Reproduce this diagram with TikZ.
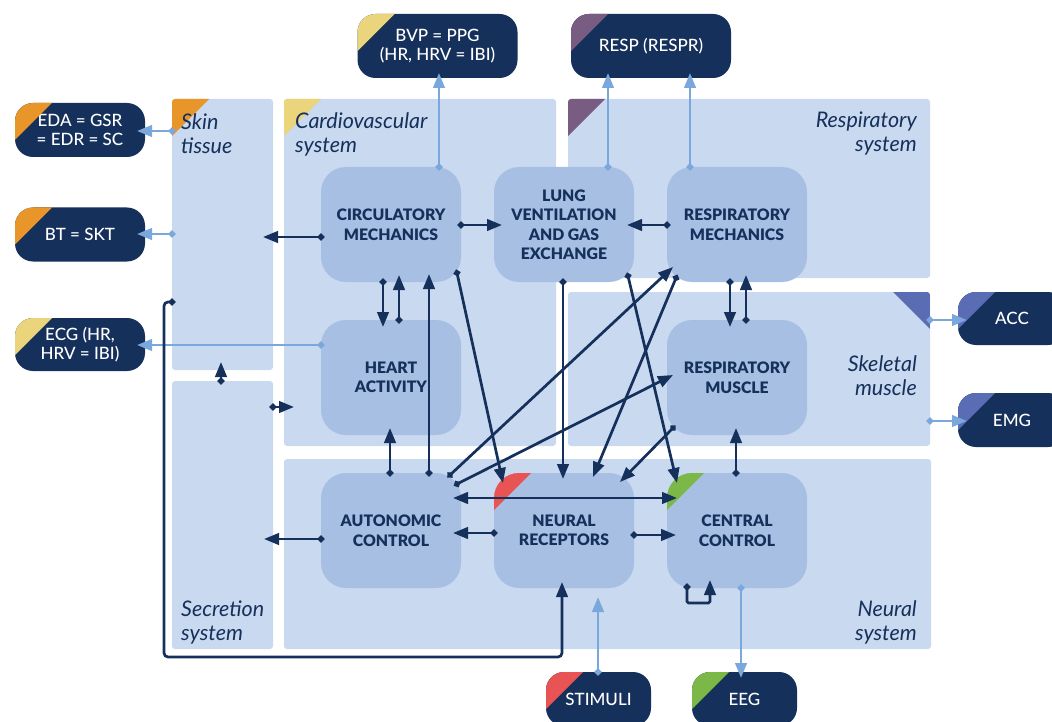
\documentclass[tikz,border=0pt]{standalone}
\usepackage{fontspec}
\setmainfont{Lato}
\IfFontExistsTF{Lato Black}{\newfontfamily\heavyfont{Lato Black}}{\newcommand{\heavyfont}{\bfseries}}
\IfFontExistsTF{Lato Medium}{\newfontfamily\medfont{Lato Medium}}{\newcommand{\medfont}{}}
\usetikzlibrary{arrows.meta,calc}
\definecolor{navy}{HTML}{15305A}
\definecolor{regc}{HTML}{C9D9EF}
\definecolor{nodec}{HTML}{A7BFE3}
\definecolor{lblue}{HTML}{7AA8DD}
\definecolor{corange}{HTML}{E8962A}
\definecolor{cyellow}{HTML}{EAD47C}
\definecolor{cpurple}{HTML}{785C82}
\definecolor{cblue}{HTML}{5A6CB4}
\definecolor{cred}{HTML}{E85454}
\definecolor{cgreen}{HTML}{7BB848}
\newcommand{\cornertri}[3]{%
  \begin{scope}
    \clip[rounded corners=#3] (#1.south west) rectangle (#1.north east);
    \fill[#2] (#1.north west) -- ++(37,0) -- ++(-37,37) -- cycle;
  \end{scope}}
\begin{document}
\begin{tikzpicture}[x=1pt,y=-1pt,
  regbox/.style={fill=regc, draw=none, rounded corners=3pt, inner sep=0pt, outer sep=0pt, anchor=north west},
  procbox/.style={fill=nodec, draw=none, rounded corners=25pt, inner sep=0pt, outer sep=0pt,
    minimum width=140pt, minimum height=115pt, align=center, text=navy,
    font=\heavyfont\fontsize{15.8}{19.5}\selectfont},
  outbox/.style={fill=navy, draw=none, rounded corners=18pt, inner sep=0pt, outer sep=0pt,
    align=center, text=white, font=\medfont\fontsize{17}{19}\selectfont},
  reglab/.style={inner sep=0pt, text=navy, font=\itshape\fontsize{21.5}{24}\selectfont},
  dk/.style={draw=navy, line width=2.7pt, {Circle[length=6.5pt]}-{Triangle[length=15pt,width=11.5pt]}, shorten <=-3.25pt},
  dkb/.style={draw=navy, line width=2.7pt, {Triangle[length=15pt,width=11.5pt]}-{Triangle[length=15pt,width=11.5pt]}},
  lb/.style={draw=lblue, line width=2.7pt, {Circle[length=6.5pt]}-{Triangle[length=15pt,width=11.5pt]}, shorten <=-3.25pt}
]
\useasboundingbox (0,0) rectangle (1052,722);

% regions
\node[regbox, minimum width=101pt, minimum height=271pt] (skin) at (172,99) {};
\node[regbox, minimum width=101pt, minimum height=268pt] (secr) at (172,381) {};
\node[regbox, minimum width=272pt, minimum height=347pt] (cardio) at (284,99) {};
\node[regbox, minimum width=362pt, minimum height=179pt] (respsys) at (568,99) {};
\node[regbox, minimum width=362pt, minimum height=154pt] (skel) at (568,292) {};
\node[regbox, minimum width=647pt, minimum height=190pt] (neur) at (284,459) {};

\cornertri{skin}{corange}{3pt}
\cornertri{cardio}{cyellow}{3pt}
\cornertri{respsys}{cpurple}{3pt}
\begin{scope}
  \clip[rounded corners=3pt] (skel.south west) rectangle (skel.north east);
  \fill[cblue] (skel.north east) -- ++(-37,0) -- ++(37,37) -- cycle;
\end{scope}

% region labels
\node[reglab, anchor=north west, align=left] (lskin) at (181,113) {Skin\\tissue};
\node[reglab, anchor=north west, align=left] (lcardio) at (295,112) {Cardiovascular\\system};
\node[reglab, anchor=north east, align=right] (lresp) at (917,112) {Respiratory\\system};
\node[reglab, anchor=north east, align=right] (lskel) at (917,355) {Skeletal\\muscle};
\node[reglab, anchor=north west, align=left] (lsecr) at (181,600.5) {Secretion\\system};
\node[reglab, anchor=north east, align=right] (lneur) at (917,600.5) {Neural\\system};

% process nodes
\node[procbox] (circ) at (391,224.5) {CIRCULATORY\\MECHANICS};
\node[procbox] (lung) at (564,224.5) {LUNG\\VENTILATION\\AND GAS\\EXCHANGE};
\node[procbox] (rmech) at (737,224.5) {RESPIRATORY\\MECHANICS};
\node[procbox] (heart) at (391,377.5) {HEART\\ACTIVITY};
\node[procbox] (rmus) at (737,377.5) {RESPIRATORY\\MUSCLE};
\node[procbox] (auto) at (391,530.5) {AUTONOMIC\\CONTROL};
\node[procbox] (recep) at (564,530.5) {NEURAL\\RECEPTORS};
\node[procbox] (cent) at (737,530.5) {CENTRAL\\CONTROL};
\cornertri{recep}{cred}{25pt}
\cornertri{cent}{cgreen}{25pt}

% output boxes
\node[outbox, minimum width=130pt, minimum height=54pt] (eda) at (80,130) {EDA = GSR\\= EDR = SC};
\node[outbox, minimum width=130pt, minimum height=54pt] (bt) at (80,234.5) {BT = SKT};
\node[outbox, minimum width=130pt, minimum height=53pt] (ecg) at (80,344.5) {ECG (HR,\\HRV = IBI)};
\node[outbox, minimum width=160pt, minimum height=64pt] (bvp) at (437.5,46) {BVP = PPG\\(HR, HRV = IBI)};
\node[outbox, minimum width=160pt, minimum height=64pt] (respo) at (651,46) {RESP (RESPR)};
\node[outbox, anchor=north west, minimum width=108pt, minimum height=53pt] (acc) at (958,292) {ACC};
\node[outbox, anchor=north west, minimum width=108pt, minimum height=54pt] (emg) at (958,393) {EMG};
\node[outbox, anchor=north west, minimum width=105pt, minimum height=54pt] (stim) at (546,672) {STIMULI};
\node[outbox, anchor=north west, minimum width=105pt, minimum height=54pt] (eeg) at (692,672) {EEG};
\cornertri{eda}{corange}{18pt}
\cornertri{bt}{corange}{18pt}
\cornertri{ecg}{cyellow}{18pt}
\cornertri{bvp}{cyellow}{18pt}
\cornertri{respo}{cpurple}{18pt}
\cornertri{acc}{cblue}{18pt}
\cornertri{emg}{cblue}{18pt}
\cornertri{stim}{cred}{18pt}
\cornertri{eeg}{cgreen}{18pt}

% light blue measurement arrows
\draw[lb] (skin.west |- 0,131) -- ([xshift=-8pt]eda.east |- 0,131);
\draw[lb] (skin.west |- 0,234) -- ([xshift=-8pt]bt.east |- 0,234);
\draw[lb] (heart.west |- 0,345) -- ([xshift=-8pt]ecg.east |- 0,345);
\draw[lb] (circ.north -| 439,0) -- ([yshift=5pt]bvp.south -| 439,0);
\draw[lb] (lung.north -| 608,0) -- ([yshift=5pt]respo.south -| 608,0);
\draw[lb] (rmech.north -| 690,0) -- ([yshift=5pt]respo.south -| 690,0);
\draw[lb] (skel.east |- 0,320) -- ([xshift=9pt]acc.west |- 0,320);
\draw[lb] (skel.east |- 0,421) -- ([xshift=9pt]emg.west |- 0,421);
\draw[lb] (stim.north -| 598,0) -- ([yshift=-9pt]recep.south -| 598,0);
\draw[lb] (cent.south -| 741,0) -- ([yshift=-6pt]eeg.north -| 741,0);

% dark connectors
\draw[dk] (circ.west |- 0,237) -- ([xshift=-10pt]skin.east |- 0,237);
\draw[dk] (circ.east |- 0,225) -- ([xshift=8pt]lung.west |- 0,225);
\draw[dk] (rmech.west |- 0,225) -- ([xshift=-7pt]lung.east |- 0,225);
\draw[dk] (circ.south -| 383,0) -- ([yshift=-7pt]heart.north -| 383,0);
\draw[dk] (heart.north -| 399,0) -- ([yshift=7pt]circ.south -| 399,0);
\draw[dk] (auto.north -| 390,0) -- ([yshift=7pt]heart.south -| 390,0);
\draw[dk] (auto.north -| 429,0) -- ([yshift=8pt]circ.south -| 429,0);
\draw[dk] ($(circ.south east)+(-4,-9)$) -- ($(recep.north west)+(9,10)$);
\draw[dk] (lung.south -| 563,0) -- ([yshift=-6pt]recep.north -| 563,0);
\draw[dk] ($(lung.south east)+(-6,-6)$) -- ($(cent.north west)+(10,10)$);
\draw[dk] ($(auto.north east)+(-11,2)$) -- ($(rmech.south west)+(6,-15)$);
\draw[dk] ($(auto.north east)+(-4,11)$) -- ($(rmus.west)+(6,-2.5)$);
\draw[dk] ($(rmech.south west)+(9,-4)$) -- ($(recep.north)+(29,4)$);
\draw[dk] ($(rmus.south west)+(6,-7)$) -- ($(recep.north east)+(-14,9)$);
\draw[dk] (rmech.south -| 730,0) -- ([yshift=-7pt]rmus.north -| 730,0);
\draw[dk] (rmus.north -| 746,0) -- ([yshift=7pt]rmech.south -| 746,0);
\draw[dk] (cent.north -| 736,0) -- ([yshift=7pt]rmus.south -| 736,0);
\draw[dkb] ([xshift=-8pt]auto.east |- 0,498) -- ([xshift=10pt]cent.west |- 0,498);
\draw[dk] (recep.west |- 0,533) -- ([xshift=-8pt]auto.east |- 0,533);
\draw[dk] (recep.east |- 0,535) -- ([xshift=9pt]cent.west |- 0,535);
\draw[dk] (auto.west |- 0,539) -- ([xshift=-9pt]secr.east |- 0,539);
\draw[dk, rounded corners=1.5pt] ($(cent.south west)+(20,-1)$) -- ++(0,16) -| ([yshift=8pt]cent.south -| 710,0);
\draw[dk, rounded corners=4pt] (skin.west |- 0,302) -- (164,302) -- (164,657) -- (562,657) -- ([yshift=6pt]recep.south -| 562,0);
\draw[dk] (secr.north -| 221,0) -- ([yshift=8pt]skin.south -| 221,0);
\draw[dk] (secr.east |- 0,407) -- ([xshift=10pt]cardio.west |- 0,407);
\end{tikzpicture}
\end{document}
